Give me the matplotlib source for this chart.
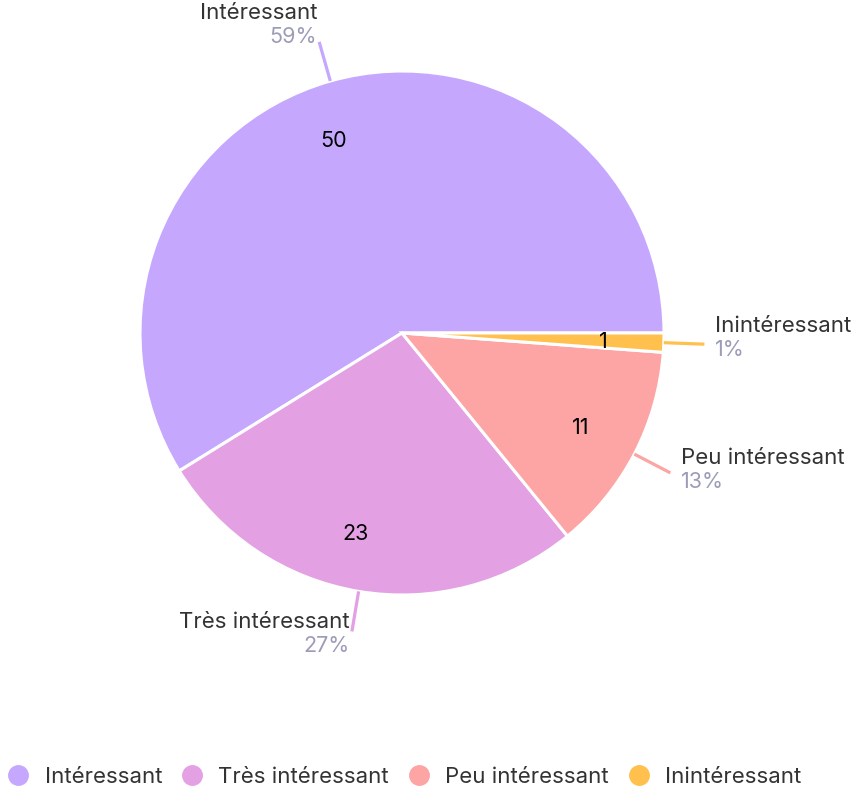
import numpy as np
import matplotlib.pyplot as plt
from matplotlib.lines import Line2D

plt.rcParams['font.family'] = ['Inter', 'DejaVu Sans']

labels = ['Intéressant', 'Très intéressant', 'Peu intéressant', 'Inintéressant']
values = [50, 23, 11, 1]
colors = ['#C5A8FE', '#E3A0E3', '#FDA4A4', '#FFC04D']

W, H = 853, 791
cx, cy, R = 402, H - 333, 262

fig = plt.figure(figsize=(W / 100, H / 100), dpi=100)
ax = fig.add_axes([0, 0, 1, 1])

wedges, texts, autotexts = ax.pie(
    values, colors=colors, startangle=0, counterclock=True,
    center=(cx, cy), radius=R,
    autopct=lambda p: '{:.0f}'.format(p * sum(values) / 100),
    pctdistance=0.77,
    wedgeprops=dict(edgecolor='white', linewidth=2.2),
    textprops=dict(fontsize=15.5, color='black'))

ax.set_xlim(0, W)
ax.set_ylim(0, H)
ax.set_aspect('auto')
ax.axis('off')

total = sum(values)
for w, lab, v, c, at in zip(wedges, labels, values, colors, autotexts):
    ang = np.deg2rad((w.theta1 + w.theta2) / 2)
    ca, sa = np.cos(ang), np.sin(ang)
    at.set_va('center_baseline')
    # value labels on the left half are right-aligned on the anchor point
    if ca < 0:
        at.set_ha('right')
    x0, y0 = cx + R * ca, cy + R * sa
    x1, y1 = cx + 1.155 * R * ca, cy + 1.155 * R * sa
    ax.plot([x0, x1], [y0, y1], color=c, lw=2.3, solid_capstyle='butt')
    py = y1 - (5 - 10 * sa)
    if ca >= 0:
        tx, ha = x1 + 11, 'left'
    else:
        tx, ha = x1 - 2, 'right'
    ax.text(tx, py, '{:.0f}%'.format(v / total * 100), ha=ha, va='center',
            fontsize=15.5, color='#9C9CB8')
    ax.text(tx, py + 24, lab, ha=ha, va='center', fontsize=16, color='#333333')

handles = [Line2D([], [], marker='o', ls='', markersize=14,
                  markerfacecolor=c, markeredgecolor=c) for c in colors]
fig.legend(handles, labels, loc='center', bbox_to_anchor=(0.474, 1 - 777 / H),
           ncol=4, frameon=False, fontsize=16, handlelength=1.0,
           handletextpad=0.68, columnspacing=0.85, labelcolor='#333333',
           borderpad=0, borderaxespad=0)

fig.savefig('out.png', dpi=100)
